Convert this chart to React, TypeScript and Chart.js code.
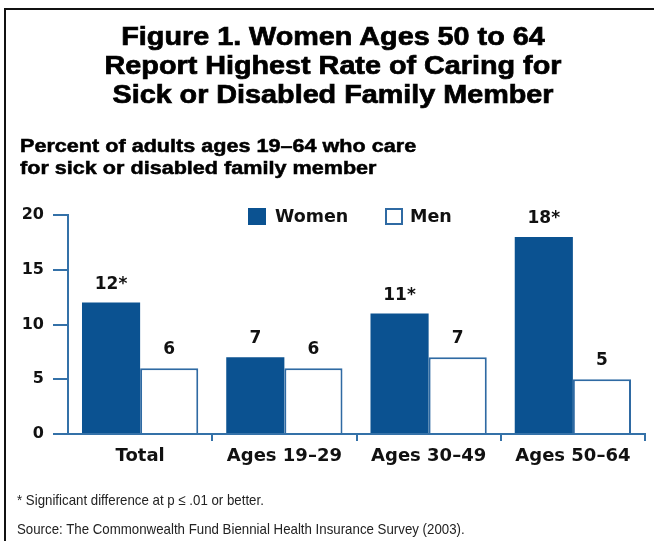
import React, { useEffect, useRef } from "react";
import { Chart, registerables } from "chart.js";

Chart.register(...registerables);

// ---- data ----
const categories = ["Total", "Ages 19–29", "Ages 30–49", "Ages 50–64"];
const womenValues = [12, 7, 11, 18];
const menValues = [6, 6, 7, 5];
const womenSignificant = [true, false, true, true];
const menSignificant = [false, false, false, false];
const seriesLabels = ["Women", "Men"];
const yMin = 0;
const yMax = 20;
const yStep = 5;

const titleLines = [
  "Figure 1. Women Ages 50 to 64",
  "Report Highest Rate of Caring for",
  "Sick or Disabled Family Member",
];
const subtitleLines = [
  "Percent of adults ages 19–64 who care",
  "for sick or disabled family member",
];
const footnoteLines = [
  "* Significant difference at p ≤ .01 or better.",
  "Source: The Commonwealth Fund Biennial Health Insurance Survey (2003).",
];

// ---- styles ----
const WOMEN_COLOR = "#0b5291";
const MEN_BORDER = "#2f6aa3";
const AXIS_COLOR = "#3471a8";
const CHART_FONT = '"DejaVu Sans", sans-serif';
const TEXT_FONT = '"Liberation Sans", Arial, Helvetica, sans-serif';

export default function App() {
  const canvasRef = useRef<HTMLCanvasElement | null>(null);

  useEffect(() => {
    const canvas = canvasRef.current;
    if (!canvas) return;
    const sigs = [womenSignificant, menSignificant];

    const valueLabels = {
      id: "valueLabels",
      afterDatasetsDraw(chart: any) {
        const ctx = chart.ctx;
        ctx.save();
        ctx.font = `bold 17px ${CHART_FONT}`;
        ctx.fillStyle = "#111";
        ctx.textAlign = "center";
        ctx.textBaseline = "alphabetic";
        chart.data.datasets.forEach((ds: any, i: number) => {
          const meta = chart.getDatasetMeta(i);
          meta.data.forEach((bar: any, j: number) => {
            const txt = String(ds.data[j]) + (sigs[i][j] ? "*" : "");
            ctx.fillText(txt, bar.x, bar.y - 14);
          });
        });
        ctx.restore();
      },
    };

    const customLegend = {
      id: "customLegend",
      afterDraw(chart: any) {
        const ctx = chart.ctx;
        const items = [
          { x: 248, textX: 275 },
          { x: 385, textX: 410 },
        ];
        ctx.save();
        ctx.font = `bold 17.5px ${CHART_FONT}`;
        ctx.textBaseline = "middle";
        ctx.textAlign = "left";
        chart.data.datasets.forEach((ds: any, i: number) => {
          const it = items[i];
          const y = 208;
          const w = 18;
          const h = 17;
          ctx.fillStyle = ds.backgroundColor;
          ctx.fillRect(it.x, y, w, h);
          if (ds.borderWidth) {
            ctx.strokeStyle = ds.borderColor;
            ctx.lineWidth = 2;
            ctx.strokeRect(it.x + 1, y + 1, w - 2, h - 2);
          }
          ctx.fillStyle = "#111";
          ctx.fillText(ds.label, it.textX, y + h / 2 + 1);
        });
        ctx.restore();
      },
    };

    const chart = new Chart(canvas, {
      type: "bar",
      data: {
        labels: categories,
        datasets: [
          {
            label: seriesLabels[0],
            data: womenValues,
            backgroundColor: WOMEN_COLOR,
            borderColor: WOMEN_COLOR,
            borderWidth: 0,
          },
          {
            label: seriesLabels[1],
            data: menValues,
            backgroundColor: "#ffffff",
            borderColor: MEN_BORDER,
            borderWidth: 2,
          },
        ],
      },
      options: {
        responsive: false,
        animation: false,
        devicePixelRatio: 1,
        layout: { padding: { top: 215, right: 9, left: 0, bottom: 0 } },
        plugins: {
          legend: { display: false },
          title: { display: false },
          tooltip: { enabled: false },
        },
        datasets: { bar: { categoryPercentage: 0.806, barPercentage: 1 } },
        scales: {
          x: {
            grid: {
              offset: true,
              drawOnChartArea: false,
              drawTicks: true,
              tickLength: 7,
              lineWidth: 2,
              color: (c: any) => (c.index === 0 ? "rgba(0,0,0,0)" : AXIS_COLOR),
            },
            border: { display: true, color: AXIS_COLOR, width: 2 },
            ticks: {
              color: "#111",
              font: { family: CHART_FONT, weight: "bold", size: 18 },
              padding: 5,
              maxRotation: 0,
              autoSkip: false,
            },
            afterFit: (s: any) => {
              s.height = 107;
            },
          },
          y: {
            min: yMin,
            max: yMax,
            ticks: {
              stepSize: yStep,
              color: "#111",
              font: { family: CHART_FONT, weight: "bold", size: 16 },
              padding: 9,
            },
            grid: {
              drawOnChartArea: false,
              drawTicks: true,
              tickLength: 15,
              lineWidth: 2,
              color: AXIS_COLOR,
            },
            border: { display: true, color: AXIS_COLOR, width: 2 },
            afterFit: (s: any) => {
              s.width = 68;
            },
          },
        },
      } as any,
      plugins: [valueLabels, customLegend],
    });
    return () => chart.destroy();
  }, []);

  return (
    <div
      style={{
        position: "absolute",
        left: 0,
        top: 0,
        width: 654,
        height: 541,
        overflow: "hidden",
        background: "#fff",
      }}
    >
      <div
        style={{
          position: "absolute",
          left: 4,
          top: 8,
          right: -10,
          bottom: -10,
          borderTop: "2px solid #111",
          borderLeft: "2px solid #111",
        }}
      />
      <canvas
        ref={canvasRef}
        width={654}
        height={541}
        style={{ position: "absolute", left: 0, top: 0, width: 654, height: 541 }}
      />
      <div
        style={{
          position: "absolute",
          left: 6,
          top: 22,
          width: 654,
          textAlign: "center",
          fontFamily: TEXT_FONT,
          fontWeight: "bold",
          fontSize: 25,
          lineHeight: "29px",
          color: "#000",
          WebkitTextStroke: "0.7px #000",
        }}
      >
        {titleLines.map((t) => (
          <div key={t} style={{ whiteSpace: "nowrap", transform: "scaleX(1.15)", transformOrigin: "center" }}>
            {t}
          </div>
        ))}
      </div>
      <div
        style={{
          position: "absolute",
          left: 20,
          top: 136,
          fontFamily: TEXT_FONT,
          fontWeight: "bold",
          fontSize: 18,
          lineHeight: "21.5px",
          color: "#000",
          WebkitTextStroke: "0.5px #000",
        }}
      >
        {subtitleLines.map((t) => (
          <div key={t} style={{ whiteSpace: "nowrap", transform: "scaleX(1.2)", transformOrigin: "left center" }}>
            {t}
          </div>
        ))}
      </div>
      {footnoteLines.map((t, i) => (
        <div
          key={t}
          style={{
            position: "absolute",
            left: 17,
            top: i === 0 ? 491 : 520,
            fontFamily: TEXT_FONT,
            fontSize: 15,
            lineHeight: "17px",
            color: "#222",
            whiteSpace: "nowrap",
            transform: "scaleX(0.885)",
            transformOrigin: "left center",
          }}
        >
          {t}
        </div>
      ))}
    </div>
  );
}
